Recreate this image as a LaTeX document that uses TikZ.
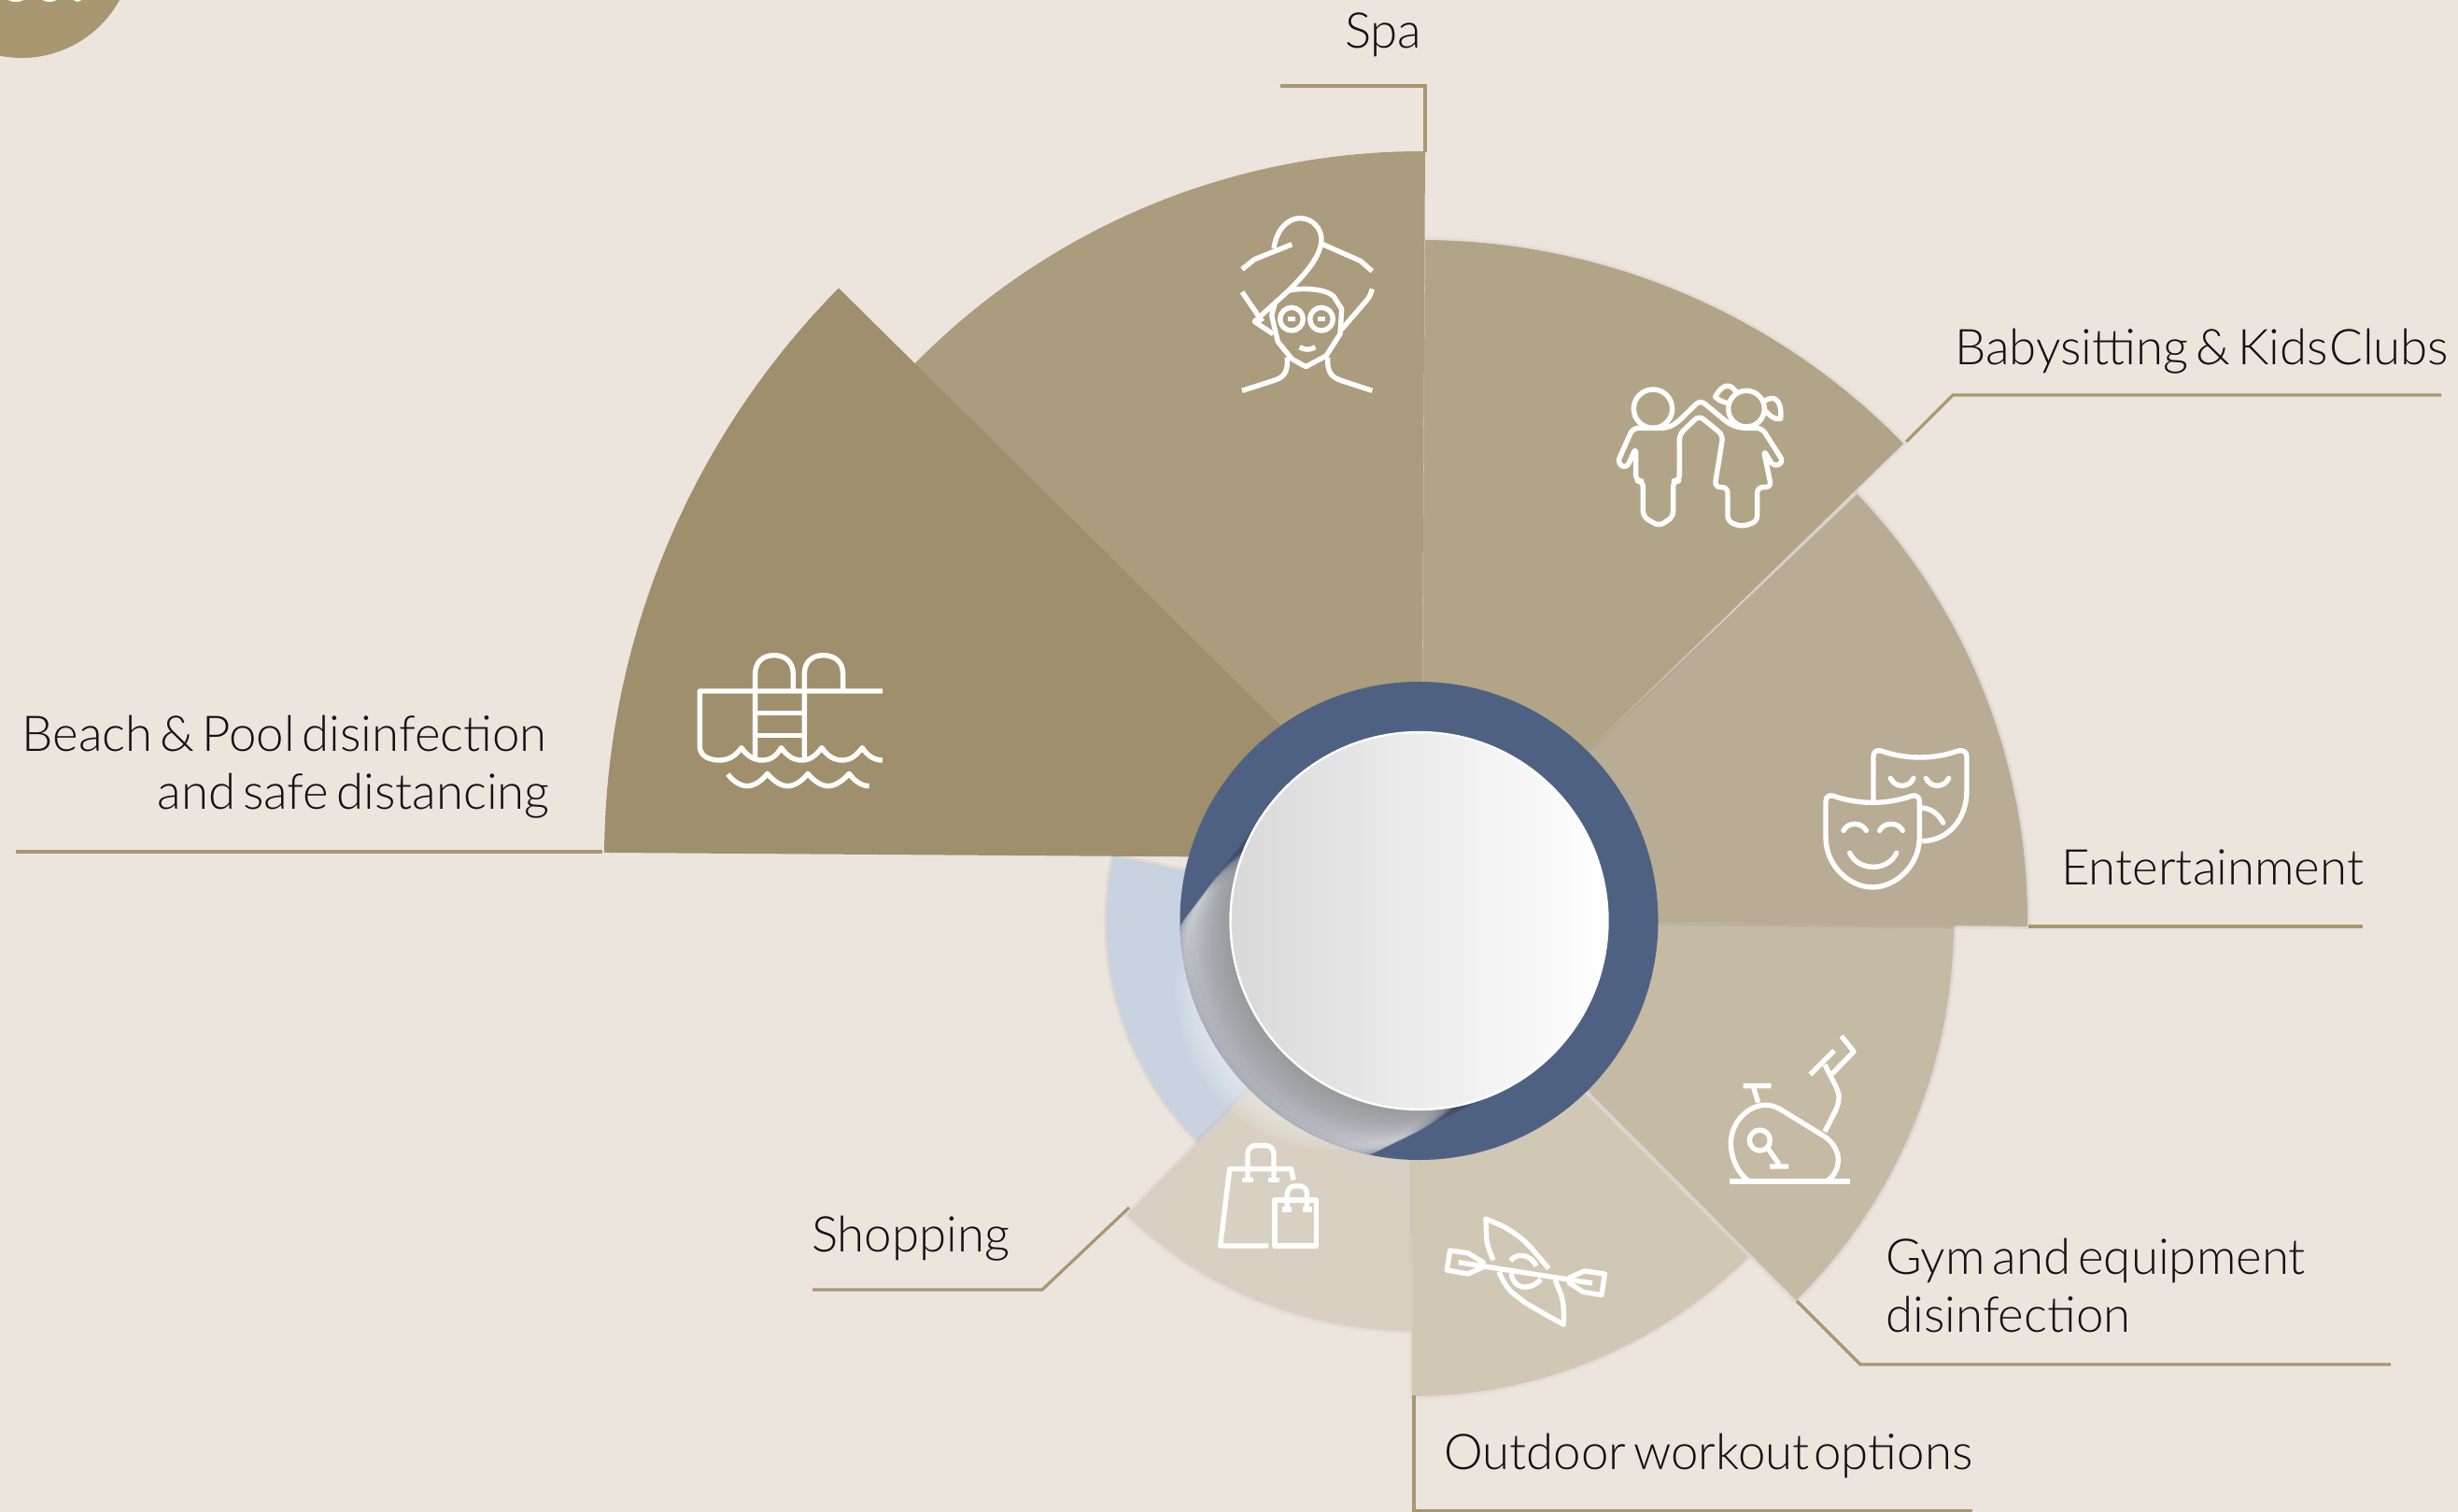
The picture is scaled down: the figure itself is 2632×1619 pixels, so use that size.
\documentclass[tikz,border=0pt]{standalone}
\usepackage{fontspec}
\setmainfont{Lato}[UprightFont=* Light,WordSpace=0.55]
\definecolor{bgc}{HTML}{ECE5DE}
\definecolor{beachc}{HTML}{9F8F6C}
\definecolor{spac}{HTML}{AA9C7C}
\definecolor{babyc}{HTML}{B2A587}
\definecolor{entc}{HTML}{B8AC94}
\definecolor{gymc}{HTML}{C5BAA3}
\definecolor{outc}{HTML}{D0C8B5}
\definecolor{shopc}{HTML}{D8D1C3}
\definecolor{lbluec}{HTML}{C8D2E0}
\definecolor{ringc}{HTML}{4F6183}
\definecolor{linec}{HTML}{A89770}
\definecolor{txtc}{HTML}{111111}
\definecolor{shadc}{HTML}{D4D5D8}
\tikzset{
 leader/.style={draw=linec,line width=3.2pt,line join=miter},
 lab/.style={inner sep=0pt,text=txtc,font=\fontsize{52.8}{62}\selectfont},
 ico/.style={draw=white,line width=5.4pt,line join=round,line cap=butt},
 icon at/.style={shift={(#1)},x=0.33333pt,y=-0.33333pt},
}
% colour, apex x, apex y, radius, angle 1, angle 2, soft edge opacity
\newcommand{\wedgeat}[7]{%
 \path[draw=black,draw opacity=#7,line width=7pt] (#2,#3) -- plot[domain=#5:#6,samples=70] ({#2+#4*cos(\x)},{#3+#4*sin(\x)}) -- cycle;
 \path[draw=black,draw opacity=#7,line width=3.5pt] (#2,#3) -- plot[domain=#5:#6,samples=70] ({#2+#4*cos(\x)},{#3+#4*sin(\x)}) -- cycle;
 \fill[#1] (#2,#3) -- plot[domain=#5:#6,samples=70] ({#2+#4*cos(\x)},{#3+#4*sin(\x)}) -- cycle;}
\begin{document}
\begin{tikzpicture}[x=1pt,y=-1pt]
\useasboundingbox (0,0) rectangle (2632,1619);
\fill[bgc] (0,0) rectangle (2632,1619);
\coordinate (C) at (1519.5,986);
% corner circle with the cut-off white marks
\fill[linec] (23,-58) circle (120);
\fill[white] (17,-4) ellipse (11 and 6);
\fill[white] (53,-4) ellipse (10 and 6);
\fill[white] (83,-3) ellipse (5 and 5);
% sectors
\wedgeat{lbluec}{1519}{986}{334}{90}{192}{0.03}
\wedgeat{shopc}{1512}{987}{438}{90.2}{134.2}{0.02}
\foreach \r in {172,169,...,142}{\fill[white,opacity=.055] (1430,1060) circle (\r);}
\wedgeat{outc}{1512}{985}{510}{45.1}{90}{0.02}
\wedgeat{gymc}{1521}{987}{571}{0.3}{45.2}{0.03}
\wedgeat{entc}{1510}{985}{661}{0.6}{-43.6}{0.03}
\wedgeat{babyc}{1522}{977}{720}{-44.2}{-89.7}{0.02}
\wedgeat{spac}{1522}{923}{761}{222}{270.3}{0}
\wedgeat{beachc}{1515}{919}{868}{180.4}{224.7}{0}
% ring
\fill[ringc] (C) circle (256);
\begin{scope}
 \clip (C) circle (256);
 % soft crescent body, tapering where it meets the disc
 \foreach \t in {1.22,1.19,...,0.8}{\fill[shadc,opacity=.16] ({1519.5-99*\t},{986+82*\t}) circle ({202-30*\t});}
 % darkening towards the disc
 \foreach \t in {0.72,0.68,...,0.02}{\fill[black,opacity=.013] ({1519.5-99*\t},{986+82*\t}) circle ({202-30*\t});}
 \draw[ringc,opacity=.03,line width=14pt] (C) circle (250);
 \draw[ringc,opacity=.05,line width=7pt] (C) circle (253);
 \draw[ringc,opacity=.07,line width=3pt] (C) circle (255);
\end{scope}
% white disc
\shade[left color=black!15,right color=white,draw=white,line width=2.4pt] (C) circle (202);
% leaders
\coordinate (a1) at (1371,92); \coordinate (a2) at (1526,92); \coordinate (a3) at (1526,163);
\draw[leader] (a1) -- (a2) -- (a3);
\coordinate (b1) at (2614,423); \coordinate (b2) at (2091,423); \coordinate (b3) at (2041,473);
\draw[leader] (b1) -- (b2) -- (b3);
\coordinate (c1) at (2172,992); \coordinate (c2) at (2530,992);
\draw[leader] (c1) -- (c2);
\coordinate (d1) at (1924,1393); \coordinate (d2) at (1992,1461); \coordinate (d3) at (2560,1461);
\draw[leader] (d1) -- (d2) -- (d3);
\coordinate (e1) at (1514,1494); \coordinate (e2) at (1514,1618); \coordinate (e3) at (2112,1618);
\draw[leader] (e1) -- (e2) -- (e3);
\coordinate (f1) at (1209,1293); \coordinate (f2) at (1116,1381); \coordinate (f3) at (870,1381);
\draw[leader] (f1) -- (f2) -- (f3);
\coordinate (g1) at (645,912); \coordinate (g2) at (17,912);
\draw[leader] (g1) -- (g2);
% labels
\node[lab,anchor=base west] (tspa) at (1440,52) {Spa};
\node[lab,anchor=base west] (tbaby) at (2093,390) {Babysitting \& Kids\hspace{-6.5pt} Clubs};
\node[lab,anchor=base west] (tent) at (2207,947) {Entertainment};
\node[lab,anchor=base west] (tgym1) at (2019,1364) {Gym and equipment};
\node[lab,anchor=base west] (tgym2) at (2019,1426) {disinfection};
\node[lab,anchor=base west] (tout) at (1546,1573) {Outdoor workout\hspace{-3pt} options};
\node[lab,anchor=base west] (tshop) at (869,1340) {Shopping};
\node[lab,anchor=base east] (tbeach1) at (586,804) {Beach \& Pool disinfection};
\node[lab,anchor=base east] (tbeach2) at (589,866) {and safe distancing};
% spa icon
\begin{scope}[icon at={1280,211}]
 \draw[ico] (150,232) -- (190,200) -- (310,152);
 \draw[ico] (252,165) .. controls (262,95) and (305,68) .. (335,68) .. controls (380,68) and (405,105) .. (405,135) .. controls (405,190) and (350,250) .. (300,300) -- (190,400) -- (250,440);
 \draw[ico] (150,305) -- (215,400);
 \draw[ico] (405,150) -- (530,205) -- (568,238);
 \draw[ico] (568,295) .. controls (562,315) and (560,320) .. (550,332) -- (470,425);
 \draw[ico] (300,300) .. controls (350,290) and (420,295) .. (445,320) -- (470,360) -- (465,440) -- (420,510) -- (355,545) -- (310,520) -- (265,465) -- (245,380) -- (255,345);
 \draw[ico] (309,392) circle (37) (405,392) circle (37);
 \draw[ico] (296,392) -- (322,392) (392,392) -- (418,392);
 \draw[ico] (335,482) .. controls (350,492) and (370,492) .. (385,482);
 \draw[ico] (295,515) .. controls (298,570) and (280,580) .. (250,590) -- (150,622);
 \draw[ico] (425,515) .. controls (422,565) and (440,580) .. (470,590) -- (568,622);
\end{scope}
% children icon
\begin{scope}[icon at={1700,390}]
 \draw[ico] (210,143) circle (62);
 \draw[ico] (510,143) circle (58);
 \draw[ico,rounded corners=6pt] (155,268) -- (155,375) -- (178,375) -- (178,490) -- (230,520) -- (275,490) -- (275,375) -- (295,375) -- (295,225) -- (358,165) -- (435,228) -- (408,395) -- (450,395) -- (450,505) -- (495,522) -- (545,505) -- (545,395) -- (590,395) -- (565,275) -- (598,330) -- (630,315) -- (560,205) -- (490,205) -- (455,192) -- (362,115) -- (285,190) -- (255,205) -- (145,205) -- (95,318) -- (125,335) -- cycle;
 \draw[ico] (480,95) .. controls (460,55) and (430,65) .. (410,105) .. controls (425,120) and (445,125) .. (458,125);
 \draw[ico] (565,120) .. controls (600,95) and (625,115) .. (620,175) .. controls (600,180) and (585,165) .. (572,150);
\end{scope}
% pool icon
\begin{scope}[icon at={720,680}]
 \draw[ico] (675,180) -- (88,180) -- (88,360) .. controls (90,395) and (130,402) .. (150,402) .. controls (185,402) and (205,385) .. (222,362) .. controls (240,390) and (265,402) .. (288,402) .. controls (320,402) and (335,385) .. (350,362) .. controls (368,390) and (392,402) .. (415,402) .. controls (445,402) and (462,385) .. (480,362) .. controls (498,390) and (522,402) .. (545,402) .. controls (575,402) and (592,385) .. (610,362) .. controls (628,390) and (650,402) .. (675,402);
 \draw[ico] (388,175) -- (388,125) .. controls (388,85) and (360,65) .. (327,65) .. controls (292,65) and (266,85) .. (266,125) -- (266,395);
 \draw[ico] (424,395) -- (424,125) .. controls (424,85) and (450,65) .. (485,65) .. controls (520,65) and (548,85) .. (548,125) -- (548,175);
 \draw[ico] (266,250) -- (424,250) (266,322) -- (424,322);
 \draw[ico] (178,447) .. controls (195,470) and (220,485) .. (240,485) .. controls (265,485) and (290,465) .. (305,445) .. controls (325,470) and (350,485) .. (370,485) .. controls (395,485) and (420,465) .. (435,445) .. controls (455,470) and (480,485) .. (500,485) .. controls (525,485) and (550,465) .. (568,445) .. controls (585,470) and (610,485) .. (632,485);
\end{scope}
% masks icon
\begin{scope}[icon at={1930,780}]
 \draw[ico] (75,235) .. controls (75,220) and (85,212) .. (100,217) .. controls (180,245) and (270,245) .. (350,217) .. controls (365,212) and (376,220) .. (376,235) -- (376,350) .. controls (376,440) and (300,510) .. (225,510) .. controls (150,510) and (75,440) .. (75,350) -- cycle;
 \draw[ico] (228,235) -- (228,90) .. controls (228,75) and (238,68) .. (252,72) .. controls (335,100) and (420,100) .. (500,72) .. controls (515,68) and (528,75) .. (528,90) -- (528,200) .. controls (528,290) and (470,360) .. (385,362);
 \draw[ico,line cap=round] (132,328) .. controls (145,300) and (190,300) .. (205,328);
 \draw[ico,line cap=round] (248,328) .. controls (262,300) and (308,300) .. (322,328);
 \draw[ico,line cap=round] (152,400) .. controls (180,460) and (275,460) .. (302,400);
 \draw[ico,line cap=round] (283,160) .. controls (298,192) and (342,192) .. (357,160);
 \draw[ico,line cap=round] (397,160) .. controls (412,192) and (455,192) .. (470,160);
 \draw[ico,line cap=round] (385,255) .. controls (415,258) and (437,275) .. (452,303);
\end{scope}
% bike icon
\begin{scope}[icon at={1830,1090}]
 \draw[ico] (67,525) -- (453,525);
 \draw[ico] (125,522) .. controls (85,490) and (70,440) .. (70,400) .. controls (72,330) and (130,280) .. (180,280) .. controls (205,280) and (215,285) .. (240,300) -- (370,380) .. controls (400,400) and (415,430) .. (415,455) .. controls (415,490) and (395,515) .. (380,522);
 \draw[ico] (110,218) -- (200,218) (142,220) -- (158,272);
 \draw[ico] (163,393) circle (33);
 \draw[ico] (190,420) -- (225,470) (195,477) -- (255,477);
 \draw[ico] (372,365) -- (405,300) .. controls (420,270) and (420,245) .. (410,225) -- (372,150);
 \draw[ico] (325,182) -- (402,105);
 \draw[ico] (395,180) -- (465,108) -- (425,58);
\end{scope}
% kayak icon
\begin{scope}[icon at={1530,1290}]
 \draw[ico] (207,178) .. controls (195,150) and (185,125) .. (185,100) -- (183,45) -- (240,70) .. controls (265,85) and (285,98) .. (305,115) -- (330,140) -- (385,205);
 \draw[ico] (225,215) .. controls (235,240) and (250,265) .. (265,280) -- (310,315) -- (370,350) -- (433,385) .. controls (435,345) and (432,310) .. (425,290) -- (405,240);
 \draw[ico] (262,180) .. controls (280,155) and (325,155) .. (345,197);
 \draw[ico] (265,220) .. controls (270,270) and (320,280) .. (360,240);
 \draw[ico] (95,185) -- (525,252);
 \draw[ico] (175,185) -- (125,155) -- (68,147) -- (58,210) -- (125,222) -- (175,200) -- cycle;
 \draw[ico] (450,235) -- (500,213) -- (565,222) -- (555,290) -- (495,280) -- (450,250) -- cycle;
\end{scope}
% bags icon
\begin{scope}[icon at={1290,1210}]
 \draw[ico] (205,372) -- (50,372) -- (80,125) -- (278,125) -- (285,160);
 \draw[ico] (138,160) -- (138,75) .. controls (140,58) and (150,50) .. (165,50) -- (195,50) .. controls (210,50) and (220,58) .. (222,75) -- (222,160);
 \draw[ico] (120,160) -- (155,160) (205,160) -- (240,160);
 \draw[ico] (225,225) rectangle (358,372);
 \draw[ico] (265,255) -- (265,205) .. controls (267,190) and (275,180) .. (290,180) -- (305,180) .. controls (320,180) and (328,190) .. (328,205) -- (328,255);
 \draw[ico] (250,255) -- (280,255) (315,255) -- (345,255);
\end{scope}
\end{tikzpicture}
\end{document}
